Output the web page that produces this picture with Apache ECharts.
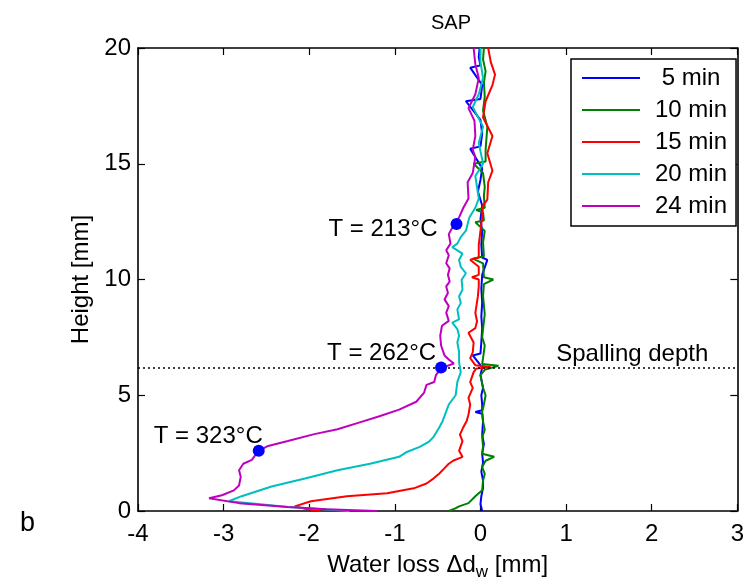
<!DOCTYPE html>
<html>
<head>
<meta charset="utf-8">
<script src="https://cdn.jsdelivr.net/npm/echarts@6/dist/echarts.min.js"></script>
<style>html,body{margin:0;padding:0;background:#fff;}#c{width:747px;height:586px;}</style>
</head>
<body>
<div id="c"></div>
<script>
// ---- data: [water loss (mm), height (mm)] ----
var seriesNames = ['5 min', '10 min', '15 min', '20 min', '24 min'];
var xTicks = [-4, -3, -2, -1, 0, 1, 2, 3];
var yTicks = [0, 5, 10, 15, 20];

var min5 = [[0.02,0],[0.0,0.3],[0.01,0.64],[0.03,1.0],[0.03,1.32],[0.01,1.7],[0.03,2.1],[0.02,2.47],[0.04,2.9],[0.02,3.3],[0.03,3.87],[0.02,4.2],[-0.06,4.28],[0.02,4.35],[0.02,4.6],[0.01,5.0],[0.03,5.32],[0.0,5.87],[0.02,6.2],[-0.09,6.72],[0.0,6.8],[0.01,7.3],[0.02,7.9],[0.01,8.4],[0.02,9.0],[0.01,9.6],[0.02,10.2],[0.08,10.85],[0.02,10.95],[0.01,11.5],[0.02,12.1],[0.0,12.6],[0.02,13.2],[-0.03,13.8],[0.0,14.3],[0.02,14.8],[-0.12,15.65],[0.0,15.75],[0.02,16.3],[0.0,16.9],[-0.17,17.7],[0.0,17.8],[0.02,18.4],[-0.12,19.15],[0.0,19.25],[-0.02,19.6],[-0.01,20]];

var min10 = [[-0.37,0],[-0.3,0.1],[-0.25,0.2],[-0.14,0.34],[-0.06,0.64],[0.02,0.9],[0.03,1.32],[0.05,1.6],[0.02,1.9],[0.06,2.17],[0.16,2.34],[0.02,2.47],[0.03,2.8],[0.02,3.19],[0.05,3.5],[0.03,3.87],[0.02,4.3],[0.04,4.6],[0.06,5.0],[0.03,5.32],[0.0,5.87],[0.05,6.1],[0.21,6.27],[0.02,6.35],[0.03,6.6],[0.05,7.15],[0.02,7.5],[0.03,7.87],[0.05,8.5],[0.03,9.28],[0.04,9.8],[0.15,10.0],[0.04,10.1],[0.03,10.7],[-0.09,10.9],[0.04,11.0],[0.03,11.6],[0.05,12.1],[-0.06,12.47],[0.04,12.55],[0.03,12.9],[-0.05,13.0],[0.05,13.1],[0.04,13.6],[0.05,14.0],[0.03,14.6],[-0.08,15.0],[0.06,15.1],[0.06,15.6],[0.08,16.6],[0.03,17.3],[0.05,17.9],[0.04,18.5],[0.06,19.0],[0.03,19.5],[0.04,20]];

var min15 = [[-1.87,0],[-2.05,0.1],[-2.17,0.2],[-1.98,0.42],[-1.56,0.64],[-1.09,0.77],[-0.78,0.98],[-0.63,1.19],[-0.55,1.4],[-0.48,1.62],[-0.42,1.85],[-0.37,2.04],[-0.32,2.17],[-0.21,2.34],[-0.25,2.6],[-0.21,3.02],[-0.24,3.3],[-0.2,3.62],[-0.16,3.9],[-0.14,4.17],[-0.12,4.6],[-0.14,4.89],[-0.09,5.32],[-0.12,5.57],[-0.08,6.0],[-0.05,6.15],[0.12,6.22],[-0.06,6.3],[-0.12,6.6],[-0.09,6.85],[-0.08,7.28],[-0.14,7.7],[-0.06,7.9],[-0.04,8.2],[-0.06,8.55],[-0.03,9.28],[-0.02,9.7],[-0.02,10.0],[-0.1,10.1],[-0.02,10.2],[-0.02,10.55],[-0.12,10.85],[-0.02,10.95],[-0.02,11.5],[0.0,12.1],[0.02,12.7],[0.03,13.2],[0.08,13.45],[0.09,14.2],[0.14,14.7],[0.08,15.45],[0.14,16.2],[0.03,17.0],[0.06,17.7],[0.14,18.4],[0.17,18.85],[0.12,19.4],[0.09,20]];

var min20 = [[-1.53,0],[-2.0,0.12],[-2.25,0.17],[-2.6,0.3],[-2.94,0.42],[-2.79,0.64],[-2.44,1.06],[-2.05,1.4],[-1.67,1.76],[-1.29,2.04],[-0.95,2.34],[-0.86,2.55],[-0.71,2.77],[-0.6,3.0],[-0.55,3.19],[-0.48,3.62],[-0.44,3.9],[-0.40,4.3],[-0.37,4.6],[-0.29,5.0],[-0.27,5.58],[-0.23,6.0],[-0.25,6.43],[-0.25,6.87],[-0.27,7.29],[-0.25,7.57],[-0.27,7.86],[-0.33,8.14],[-0.33,8.21],[-0.25,8.28],[-0.27,8.71],[-0.23,8.99],[-0.25,9.28],[-0.21,9.56],[-0.22,9.99],[-0.17,10.27],[-0.23,10.55],[-0.25,10.84],[-0.21,11.12],[-0.33,11.4],[-0.27,11.55],[-0.23,11.83],[-0.17,12.11],[-0.15,12.4],[-0.13,12.68],[-0.06,13.1],[-0.02,13.5],[-0.06,14.47],[0.03,15.0],[-0.02,15.9],[0.03,16.6],[-0.09,17.45],[-0.02,18.0],[0.03,18.7],[0.0,19.4],[0.0,20]];

var min24 = [[-1.21,0],[-1.8,0.08],[-2.25,0.17],[-2.82,0.34],[-3.17,0.55],[-3.02,0.68],[-2.88,0.89],[-2.82,1.1],[-2.80,1.48],[-2.82,1.76],[-2.77,2.04],[-2.67,2.21],[-2.62,2.47],[-2.59,2.6],[-2.48,2.81],[-2.25,3.02],[-1.94,3.32],[-1.67,3.53],[-1.41,3.83],[-1.18,4.09],[-0.95,4.38],[-0.75,4.72],[-0.66,5.1],[-0.63,5.45],[-0.54,5.57],[-0.52,5.87],[-0.46,6.17],[-0.31,6.37],[-0.36,6.51],[-0.42,6.72],[-0.46,7.15],[-0.47,7.57],[-0.45,8.0],[-0.37,8.21],[-0.40,8.57],[-0.37,8.85],[-0.42,9.14],[-0.38,9.42],[-0.40,9.7],[-0.36,9.91],[-0.38,10.2],[-0.36,10.48],[-0.40,10.7],[-0.37,11.05],[-0.40,11.26],[-0.35,11.55],[-0.37,11.96],[-0.32,12.3],[-0.25,12.68],[-0.2,13.1],[-0.14,13.5],[-0.15,14.2],[-0.09,14.6],[-0.06,15.3],[-0.09,15.6],[-0.06,16.2],[-0.07,16.85],[-0.14,17.4],[-0.06,18.0],[-0.02,18.7],[-0.06,19.3],[-0.08,20]];

// temperature markers: [x, y], label
var tempPoints = [[-0.28, 12.4], [-0.46, 6.2], [-2.59, 2.6]];
var tempLabels = ['T = 213°C', 'T = 262°C', 'T = 323°C'];
var spallingDepth = 6.2;

var colors = ['#0000FF', '#008000', '#FF0000', '#00BFBF', '#BF00BF'];
var allData = [min5, min10, min15, min20, min24];
var FONT = '"Liberation Sans", Arial, sans-serif';
var FS = 24;

var chart = echarts.init(document.getElementById('c'), null, {renderer: 'canvas'});

var lineSeries = allData.map(function (d, i) {
  return {
    name: seriesNames[i],
    type: 'line',
    data: d,
    symbol: 'none',
    smooth: false,
    color: colors[i],
    lineStyle: {color: colors[i], width: 2},
    z: 2 + i,
    animation: false
  };
});

lineSeries[0].markLine = {
  silent: true,
  symbol: ['none', 'none'],
  lineStyle: {color: '#000', type: [2, 3], width: 1.5},
  label: {
    show: true,
    position: 'insideEndTop',
    distance: [29, 1],
    formatter: 'Spalling depth',
    color: '#000',
    fontSize: FS,
    fontFamily: FONT
  },
  data: [{yAxis: spallingDepth}],
  animation: false
};

var labelOffsets = [[-13, 11], [1, -8], [10, -8]];
var scatterData = tempPoints.map(function (p, i) {
  return {
    value: p,
    label: {
      show: true,
      formatter: tempLabels[i],
      position: labelOffsets[i],
      align: 'right',
      verticalAlign: 'middle',
      color: '#000',
      fontSize: FS,
      fontFamily: FONT
    }
  };
});

var lineAx = {show: true, onZero: false, lineStyle: {color: '#000', width: 1.6}};
var tickAx = {show: true, inside: true, length: 7, lineStyle: {color: '#000', width: 1.2}};

var option = {
  backgroundColor: '#fff',
  animation: false,
  title: {
    text: 'SAP',
    left: 446,
    top: 8,
    textAlign: 'center',
    textStyle: {fontSize: 20, fontWeight: 'normal', color: '#000', fontFamily: FONT}
  },
  grid: {left: 138, right: 2, top: 48, bottom: 68, containLabel: false},
  legend: {
    data: seriesNames,
    orient: 'vertical',
    left: 571,
    top: 59,
    padding: [7, 9, 8, 11],
    itemGap: 8,
    itemWidth: 58,
    itemHeight: 2,
    icon: 'rect',
    backgroundColor: '#fff',
    borderColor: '#000',
    borderWidth: 1.5,
    borderRadius: 0,
    formatter: function (n) { return n === '5 min' ? ' ' + n : n; },
    textStyle: {fontSize: FS, lineHeight: 24, color: '#000', fontFamily: FONT, padding: [0, 0, 0, 10]},
    z: 20
  },
  xAxis: [
    {
      type: 'value', position: 'bottom', min: -4, max: 3, interval: 1,
      axisLine: lineAx, axisTick: tickAx, splitLine: {show: false},
      axisLabel: {show: true, color: '#000', fontSize: FS, fontFamily: FONT, margin: 11,
        formatter: function (v) { return xTicks.indexOf(v) >= 0 ? String(v) : ''; }},
      name: 'Water loss Δd{sub|w} [mm]',
      nameLocation: 'middle',
      nameGap: 38,
      nameTextStyle: {color: '#000', fontSize: FS, fontFamily: FONT,
        rich: {sub: {fontSize: 17, verticalAlign: 'bottom', padding: [15, 0, 0, 0], fontFamily: FONT, color: '#000'}}}
    },
    {
      type: 'value', position: 'top', min: -4, max: 3, interval: 1,
      axisLine: lineAx, axisTick: tickAx, splitLine: {show: false},
      axisLabel: {show: false}
    }
  ],
  yAxis: [
    {
      type: 'value', position: 'left', min: 0, max: 20, interval: 5,
      axisLine: lineAx, axisTick: tickAx, splitLine: {show: false},
      axisLabel: {show: true, color: '#000', fontSize: FS, fontFamily: FONT, margin: 7,
        formatter: function (v) { return yTicks.indexOf(v) >= 0 ? String(v) : ''; }},
      name: 'Height [mm]',
      nameLocation: 'middle',
      nameGap: 44,
      nameTextStyle: {color: '#000', fontSize: FS, fontFamily: FONT}
    },
    {
      type: 'value', position: 'right', min: 0, max: 20, interval: 5,
      axisLine: lineAx, axisTick: tickAx, splitLine: {show: false},
      axisLabel: {show: false}
    }
  ],
  graphic: [
    {type: 'text', left: 20, top: 510, style: {text: 'b', fontSize: 27, fill: '#000', fontFamily: FONT}}
  ],
  series: lineSeries.concat([{
    name: 'temps',
    type: 'scatter',
    data: scatterData,
    symbol: 'circle',
    symbolSize: 12,
    itemStyle: {color: '#0000FF', opacity: 1},
    z: 10,
    animation: false
  }])
};

chart.setOption(option);
</script>
</body>
</html>
